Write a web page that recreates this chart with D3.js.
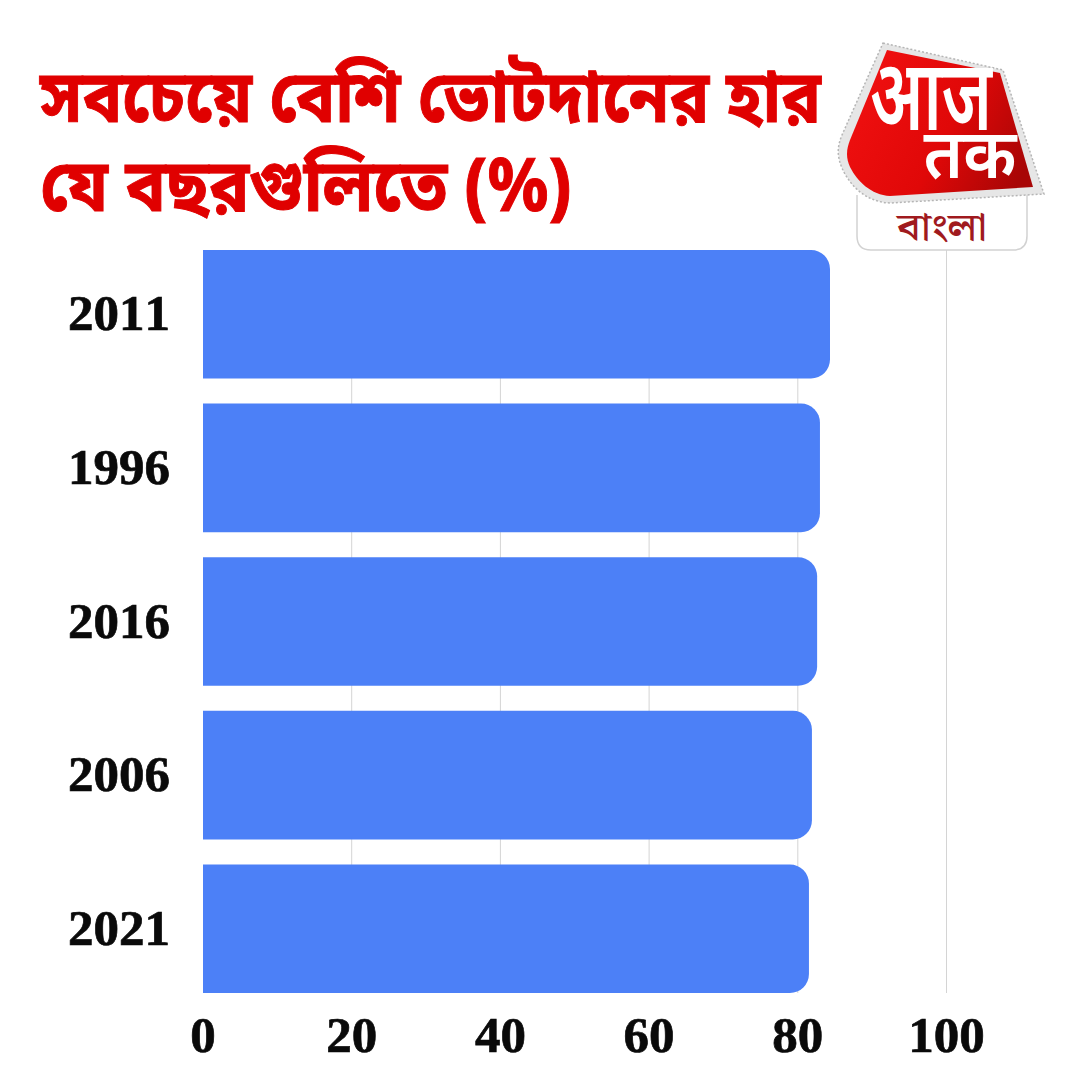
<!DOCTYPE html>
<html>
<head>
<meta charset="utf-8">
<script src="https://cdn.jsdelivr.net/npm/d3@7"></script>
<style>
html, body { margin: 0; padding: 0; background: #fff; }
svg { display: block; }
</style>
</head>
<body>
<script>
// values
const years = ['2011', '1996', '2016', '2006', '2021'];
const turnout = [84.33, 82.98, 82.6, 81.9, 81.5];
const xTicks = [0, 20, 40, 60, 80, 100];
const titleLines = ['সবচেয়ে বেশি ভোটদানের হার', 'যে বছরগুলিতে (%)'];

const svg = d3.select('body').append('svg')
  .attr('width', 1080)
  .attr('height', 1080);

const xscale = d3.scaleLinear().domain([0, 100]).range([203, 946.5]);
const yscale = d3.scaleBand().domain(years).range([250, 993]).paddingInner(0.163);

// gridlines
svg.append('g').selectAll('line')
  .data(xTicks.slice(1))
  .enter().append('line')
  .attr('x1', d => xscale(d))
  .attr('x2', d => xscale(d))
  .attr('y1', 250)
  .attr('y2', 993)
  .attr('stroke', '#d4d4d4')
  .attr('stroke-width', 1);

// bars, only right side rounded
const barPath = (v, y) => {
  const r = 19, x0 = xscale(0), x1 = xscale(v), h = yscale.bandwidth();
  return `M${x0},${y}H${x1 - r}A${r},${r} 0 0 1 ${x1},${y + r}V${y + h - r}A${r},${r} 0 0 1 ${x1 - r},${y + h}H${x0}Z`;
};
svg.append('g').selectAll('path')
  .data(years)
  .enter().append('path')
  .attr('d', (d, i) => barPath(turnout[i], yscale(d)))
  .attr('fill', '#4c80f7');

// shared look of the numbers
const numberStyle = sel => sel
  .attr('font-family', '"Liberation Serif"')
  .attr('font-weight', 700)
  .attr('font-size', 51)
  .style('font-kerning', 'none')
  .attr('fill', '#0a0a0a')
  .attr('stroke', '#0a0a0a')
  .attr('stroke-width', 0.7);

// year labels
svg.append('g').selectAll('text')
  .data(years)
  .enter().append('text')
  .attr('x', 170)
  .attr('y', d => yscale(d) + yscale.bandwidth() / 2 + 16)
  .attr('text-anchor', 'end')
  .call(numberStyle)
  .text(d => d);

// x axis labels
svg.append('g').selectAll('text')
  .data(xTicks)
  .enter().append('text')
  .attr('x', d => xscale(d))
  .attr('y', 1052)
  .attr('text-anchor', 'middle')
  .call(numberStyle)
  .text(d => d);

// title, stretched like the original
svg.append('g').selectAll('text')
  .data(titleLines)
  .enter().append('text')
  .attr('transform', (d, i) => `translate(40,${122 + i * 89}) scale(${i ? 1.08 : 1.063},1.17)`)
  .attr('font-family', '"Noto Sans Bengali", "Noto Serif Bengali", "Noto Sans", sans-serif')
  .attr('font-weight', 700)
  .attr('font-size', 62)
  .attr('fill', '#e00000')
  .attr('stroke', '#e00000')
  .attr('stroke-width', 0.8)
  .text(d => d);

// logo
const defs = svg.append('defs');
const grad = defs.append('linearGradient')
  .attr('id', 'logoRed')
  .attr('x1', 0).attr('y1', 0.3).attr('x2', 1).attr('y2', 0.7);
grad.append('stop').attr('offset', 0).attr('stop-color', '#f01010');
grad.append('stop').attr('offset', 0.55).attr('stop-color', '#e00808');
grad.append('stop').attr('offset', 1).attr('stop-color', '#a80606');

const logo = svg.append('g');
logo.append('path')
  .attr('d', 'M857,195 V236 Q857,250 871,250 H1013 Q1027,250 1027,236 V195')
  .attr('fill', '#fff')
  .attr('stroke', '#d2d2d2')
  .attr('stroke-width', 1.5);
logo.append('path')
  .attr('d', 'M883,43 L1003,70 L1044,194 L890,203 C866,202 850,186 842,168 C837,156 837,147 842,135 Z')
  .attr('fill', '#e6e6e6')
  .attr('stroke', '#b5b5b5')
  .attr('stroke-width', 1.5)
  .attr('stroke-dasharray', '2 2');
logo.append('path')
  .attr('d', 'M887,50 L1000,73 L1033,187 L890,196 C871,195 857,181 850,167 C846,158 846,150 850,140 Z')
  .attr('fill', 'url(#logoRed)');
logo.append('text')
  .attr('transform', 'translate(931,130) scale(1.02,1.55)')
  .attr('text-anchor', 'middle')
  .attr('font-family', '"Noto Sans Devanagari", "Noto Sans", sans-serif')
  .attr('font-weight', 600).attr('font-size', 64).attr('fill', '#fff')
  .text('आज');
logo.append('text')
  .attr('transform', 'translate(970,178) scale(1,1.05)')
  .attr('text-anchor', 'middle')
  .attr('font-family', '"Noto Sans Devanagari", "Noto Sans", sans-serif')
  .attr('font-weight', 600).attr('font-size', 66).attr('fill', '#fff')
  .text('तक');
logo.append('text')
  .attr('transform', 'translate(942,240) scale(1.16,1)')
  .attr('text-anchor', 'middle')
  .attr('font-family', '"Noto Serif Bengali", "Noto Sans Bengali", "Noto Sans", sans-serif')
  .attr('font-weight', 600).attr('font-size', 38).attr('fill', '#a01a1e')
  .text('বাংলা');
</script>
</body>
</html>
